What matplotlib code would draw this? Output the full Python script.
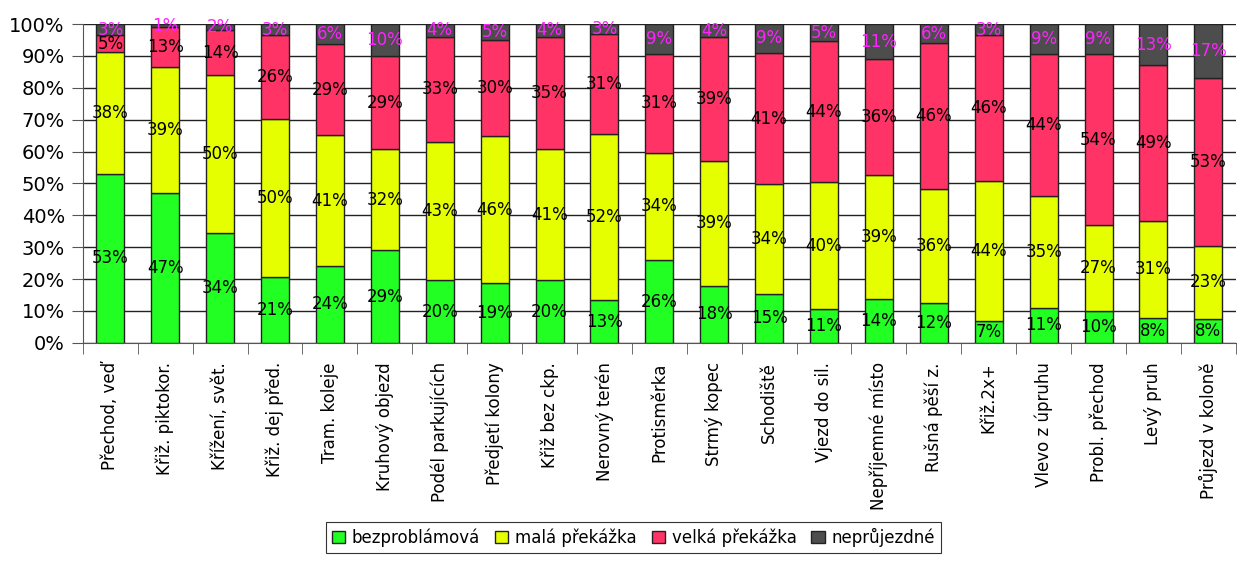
import numpy as np
import matplotlib
matplotlib.use("Agg")
import matplotlib.pyplot as plt

# kategorie situací
kategorie = [
    "Přechod, veď", "Křiž. piktokor.", "Křížení, svět.", "Křiž. dej před.",
    "Tram. koleje", "Kruhový objezd", "Podél parkujících", "Předjetí kolony",
    "Křiž bez ckp.", "Nerovný terén", "Protisměrka", "Strmý kopec",
    "Schodiště", "Vjezd do sil.", "Nepříjemné místo", "Rušná pěší z.",
    "Křiž.2x+", "Vlevo z úpruhu", "Probl. přechod", "Levý pruh",
    "Průjezd v koloně",
]

# podíly odpovědí v procentech
bezproblamova = [53.1, 47.0, 34.3, 20.6, 24.1, 29.0, 19.6, 18.8, 19.6, 13.3, 25.9,
                 17.9, 15.4, 10.7, 13.6, 12.4, 6.9, 11.0, 9.9, 7.7, 7.6]
mala_prekazka = [38.1, 39.4, 49.8, 49.6, 41.0, 31.7, 43.4, 46.0, 41.1, 52.2, 33.8,
                 39.1, 34.3, 39.6, 38.9, 36.0, 43.9, 35.2, 27.0, 30.6, 22.9]
velka_prekazka = [5.4, 12.7, 13.9, 26.4, 28.6, 29.2, 33.1, 30.2, 35.3, 31.4, 30.9,
                  38.9, 41.3, 44.4, 36.4, 45.7, 45.8, 44.4, 53.7, 48.8, 52.6]
nepr = [3.4, 0.9, 2.0, 3.4, 6.3, 10.1, 3.9, 5.0, 4.0, 3.1, 9.4,
        4.1, 9.0, 5.3, 11.1, 5.9, 3.4, 9.4, 9.4, 12.9, 16.9]

serie = [
    ("bezproblámová", bezproblamova, "#22ff22", "black"),
    ("malá překážka", mala_prekazka, "#e6ff00", "black"),
    ("velká překážka", velka_prekazka, "#ff3366", "black"),
    ("neprůjezdné", nepr, "#4d4d4d", "#ff22ff"),
]

fig = plt.figure(figsize=(12.37, 5.61), dpi=100)
ax = fig.add_axes([0.067, 0.389, 0.932, 0.568])

x = np.arange(len(kategorie))
spodek = np.zeros(len(kategorie))
for nazev, hodnoty, barva, barva_textu in serie:
    hodnoty = np.array(hodnoty)
    ax.bar(x, hodnoty, width=0.51, bottom=spodek, color=barva,
           edgecolor="#222222", linewidth=1.0, label=nazev, zorder=3)
    for xi, b, h in zip(x, spodek, hodnoty):
        ax.text(xi, b + h / 2, f"{h:.0f}%", ha="center", va="center",
                fontsize=12, color=barva_textu, zorder=4)
    spodek += hodnoty

ax.set_xlim(-0.5, len(kategorie) - 0.5)
ax.set_ylim(0, 100)
ax.set_yticks(np.arange(0, 101, 10))
ax.set_yticklabels([f"{v}%" for v in range(0, 101, 10)], fontsize=14)
ax.yaxis.grid(True, color="#222222", linewidth=1)
ax.set_axisbelow(True)

# popisky uprostřed, čárky na hranicích kategorií
ax.set_xticks(x)
ax.set_xticklabels(kategorie, rotation=90, fontsize=12)
ax.tick_params(axis="x", which="major", length=0, pad=14)
ax.set_xticks(np.arange(-0.5, len(kategorie)), minor=True)
ax.tick_params(axis="x", which="minor", length=8, color="#555555")
ax.tick_params(axis="y", length=8, color="#555555", pad=5)

for s in ["top", "right"]:
    ax.spines[s].set_visible(False)
ax.spines["left"].set_color("#555555")
ax.spines["bottom"].set_color("#555555")

leg = fig.legend(loc="lower center", bbox_to_anchor=(0.512, 0.0), ncol=4,
                 fontsize=12, frameon=True, fancybox=False, edgecolor="black",
                 handlelength=0.8, handleheight=0.8, handletextpad=0.4,
                 columnspacing=0.9, borderpad=0.35)
leg.get_frame().set_linewidth(0.8)

fig.savefig("out.png", dpi=100)
